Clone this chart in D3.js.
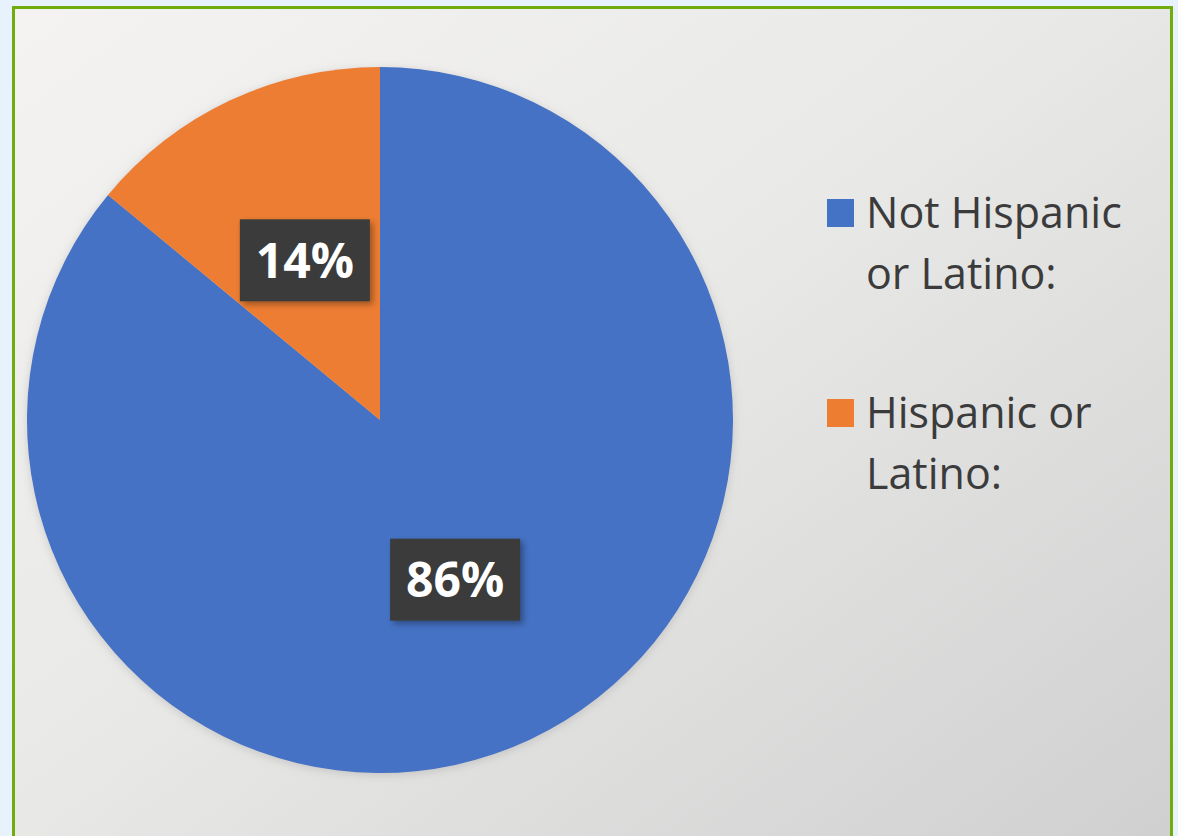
<!DOCTYPE html>
<html>
<head>
<meta charset="utf-8">
<script src="https://cdn.jsdelivr.net/npm/d3@7"></script>
<style>
  html, body { margin: 0; padding: 0; background: #e8f2fc; overflow: hidden; }
  svg { display: block; }
</style>
</head>
<body>
<script>
const width = 1178;
const height = 836;

// data
const categories = ["Not Hispanic or Latino:", "Hispanic or Latino:"];
const legendLines = [["Not Hispanic", "or Latino:"], ["Hispanic or", "Latino:"]];
const values = [86, 14];
const colors = ["#4472c4", "#ed7d31"];

const svg = d3.select("body").append("svg")
    .attr("width", width)
    .attr("height", height);

const defs = svg.append("defs");

const grad = defs.append("linearGradient")
    .attr("id", "bg")
    .attr("x1", "0%").attr("y1", "0%")
    .attr("x2", "100%").attr("y2", "100%");
grad.append("stop").attr("offset", "0%").attr("stop-color", "#f4f3f1");
grad.append("stop").attr("offset", "45%").attr("stop-color", "#e9e9e8");
grad.append("stop").attr("offset", "100%").attr("stop-color", "#cfcfcf");

const shadow = defs.append("filter")
    .attr("id", "shadow")
    .attr("x", "-20%").attr("y", "-20%")
    .attr("width", "140%").attr("height", "140%");
shadow.append("feDropShadow")
    .attr("dx", 3).attr("dy", 3)
    .attr("stdDeviation", 3)
    .attr("flood-color", "#000")
    .attr("flood-opacity", 0.35);

const glow = defs.append("filter")
    .attr("id", "glow")
    .attr("x", "-10%").attr("y", "-10%")
    .attr("width", "120%").attr("height", "120%");
glow.append("feDropShadow")
    .attr("dx", 0).attr("dy", 2)
    .attr("stdDeviation", 5)
    .attr("flood-color", "#8a8a8a")
    .attr("flood-opacity", 0.35);

// frame
svg.append("rect")
    .attr("x", 13.5)
    .attr("y", 7.5)
    .attr("width", 1158)
    .attr("height", 860)
    .attr("fill", "url(#bg)")
    .attr("stroke", "#6fac0c")
    .attr("stroke-width", 3);

// pie
const cx = 380, cy = 420, radius = 353;

const pie = d3.pie().sort(null).value(d => d);
const arc = d3.arc().innerRadius(0).outerRadius(radius);
const labelArc = d3.arc().innerRadius(0).outerRadius(radius);

const g = svg.append("g").attr("transform", `translate(${cx},${cy})`);
const arcs = pie(values);

g.append("g")
    .attr("filter", "url(#glow)")
    .selectAll("path")
    .data(arcs)
    .enter()
    .append("path")
    .attr("d", arc)
    .attr("fill", (d, i) => colors[i]);

const labels = g.selectAll("g.label")
    .data(arcs)
    .enter()
    .append("g")
    .attr("class", "label")
    .attr("transform", d => `translate(${labelArc.centroid(d)})`);

labels.append("rect")
    .attr("x", -65)
    .attr("y", -41)
    .attr("width", 130)
    .attr("height", 82)
    .attr("fill", "#3a3b3b")
    .attr("filter", "url(#shadow)");

labels.append("text")
    .attr("text-anchor", "middle")
    .attr("dy", "0.36em")
    .attr("fill", "#ffffff")
    .style("font-family", "'Open Sans', 'DejaVu Sans', sans-serif")
    .style("font-weight", 700)
    .style("font-size", "48px")
    .text(d => d.data + "%");

// legend
const legend = svg.append("g")
    .selectAll("g")
    .data(categories)
    .enter()
    .append("g")
    .attr("transform", (d, i) => `translate(827, ${199 + i * 200})`);

legend.append("rect")
    .attr("width", 27)
    .attr("height", 28)
    .attr("fill", (d, i) => colors[i]);

legend.append("text")
    .attr("x", 39)
    .attr("y", 29)
    .attr("fill", "#3b3b3b")
    .style("font-family", "'Open Sans', 'DejaVu Sans', sans-serif")
    .style("font-size", "43px")
    .selectAll("tspan")
    .data((d, i) => legendLines[i])
    .enter()
    .append("tspan")
    .attr("x", 39)
    .attr("dy", (d, j) => j === 0 ? 0 : 61)
    .text(d => d);
</script>
</body>
</html>
